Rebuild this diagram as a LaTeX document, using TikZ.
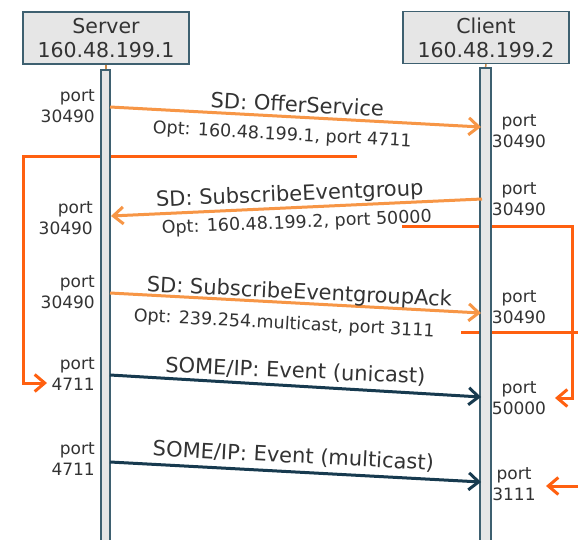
\documentclass[tikz,border=0pt]{standalone}
\usepackage{fontspec}
\setmainfont{DejaVu Sans}
\usetikzlibrary{arrows.meta}
\definecolor{sdorange}{HTML}{F79646}
\definecolor{maporange}{HTML}{FF6010}
\definecolor{evnavy}{HTML}{173A4F}
\definecolor{boxgray}{HTML}{E6E6E6}
\definecolor{boxline}{HTML}{3E6070}
\definecolor{tickbrown}{HTML}{C98A4B}
\definecolor{txtgray}{HTML}{333333}

\begin{document}
\begin{tikzpicture}[x=1pt,y=-1pt,
	host/.style={draw=boxline,line width=1.4pt,fill=boxgray,minimum width=166pt,minimum height=52pt,align=center,inner sep=0pt,text=txtgray,font=\fontsize{20.5}{24}\selectfont},
	lifeline/.style={draw=boxline,line width=1.1pt,fill=boxgray},
	portl/.style={inner sep=0pt,text=txtgray,font=\fontsize{17}{20.5}\selectfont},
	msg/.style={anchor=base,inner sep=0pt,text=txtgray,font=\fontsize{21}{24}\selectfont},
	opt/.style={anchor=base,inner sep=0pt,text=txtgray,font=\fontsize{17.5}{20}\selectfont},
	sdarrow/.style={draw=sdorange,line width=3pt,-{Straight Barb[length=10pt,width=17pt]}},
	evarrow/.style={draw=evnavy,line width=3pt,-{Straight Barb[length=10pt,width=17pt]}},
	maparrow/.style={draw=maporange,line width=3pt,-{Straight Barb[length=10pt,width=17pt]}}]
	\clip (0,0) rectangle (578,540);
	\fill[white] (0,0) rectangle (578,540);
	\coordinate (map1) at (357,157);
	\coordinate (map1end) at (47,383);
	\coordinate (map2) at (402,226);
	\coordinate (map2end) at (555,398);
	\coordinate (map3) at (461,332);
	\coordinate (map3end) at (546,486);
	\draw[maparrow] (map1) -- (23,157) |- (map1end);
	\draw[maparrow] (map2) -- (572,226) |- (map2end);
	\draw[maparrow] (map3) -- (600,332) |- (map3end);
	\node[host] (server) at (106,38) {Server\\160.48.199.1};
	\node[host] (client) at (486,37.5) {Client\\160.48.199.2};
	\draw[tickbrown,line width=1.5pt] (server.south) -- (106,70);
	\draw[tickbrown,line width=1.5pt] (client.south) -- (485.5,68);
	\draw[lifeline] (101,70) rectangle (110,560);
	\draw[lifeline] (480,68) rectangle (491,560);
	\coordinate (s1) at (110,107);
	\coordinate (c1) at (481,127);
	\coordinate (c2) at (482,199);
	\coordinate (s2) at (111,216);
	\coordinate (s3) at (110,293);
	\coordinate (c3) at (481,313);
	\coordinate (s4) at (110,375);
	\coordinate (c4) at (481,397);
	\coordinate (s5) at (110,462);
	\coordinate (c5) at (481,482);
	\draw[sdarrow] (s1) -- (c1);
	\draw[sdarrow] (c2) -- (s2);
	\draw[sdarrow] (s3) -- (c3);
	\draw[evarrow] (s4) -- (c4);
	\draw[evarrow] (s5) -- (c5);
	\node[msg,rotate=-3] (m1) at (297,112) {SD: OfferService};
	\node[opt,rotate=-3] (o1) at (282,140) {Opt: 160.48.199.1, port 4711};
	\node[msg,rotate=2.5] (m2) at (290,201) {SD: SubscribeEventgroup};
	\node[opt,rotate=2.5] (o2) at (297,228) {Opt: 160.48.199.2, port 50000};
	\node[msg,rotate=-2.8] (m3) at (299,299) {SD: SubscribeEventgroupAck};
	\node[opt,rotate=-3] (o3) at (284,329) {Opt: 239.254.multicast, port 3111};
	\node[msg,rotate=-2.5] (m4) at (295,378) {SOME/IP: Event (unicast)};
	\node[msg,rotate=-3] (m5) at (293,463) {SOME/IP: Event (multicast)};
	\node[portl,align=right,anchor=east] (sp1) at (95,106) {port\\30490};
	\node[portl,align=right,anchor=east] (sp2) at (93,218) {port\\30490};
	\node[portl,align=right,anchor=east] (sp3) at (95,292) {port\\30490};
	\node[portl,align=right,anchor=east] (sp4) at (95,374) {port\\4711};
	\node[portl,align=right,anchor=east] (sp5) at (95,459) {port\\4711};
	\node[portl,align=center] (cp1) at (519,131) {port\\30490};
	\node[portl,align=center] (cp2) at (519,199) {port\\30490};
	\node[portl,align=center] (cp3) at (519,307) {port\\30490};
	\node[portl,align=center] (cp4) at (519,398) {port\\50000};
	\node[portl,align=center] (cp5) at (514,484) {port\\3111};
\end{tikzpicture}
\end{document}
